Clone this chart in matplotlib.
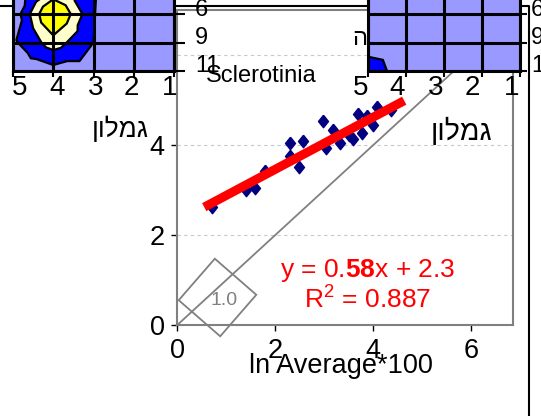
import numpy as np
import matplotlib
matplotlib.use('Agg')
import matplotlib.pyplot as plt
import matplotlib.tri as mtri
from matplotlib.path import Path
from matplotlib.transforms import ScaledTranslation

plt.rcParams['font.family'] = ['Liberation Sans', 'DejaVu Sans']
plt.rcParams['mathtext.fontset'] = 'custom'
plt.rcParams['mathtext.rm'] = 'Liberation Sans'
plt.rcParams['mathtext.bf'] = 'Liberation Sans:bold'

# scatter: ln(average*100) against sclerotinia
ln_avg = [0.71, 1.41, 1.59, 1.78, 2.29, 2.57, 2.29, 2.49, 2.98, 3.04,
          3.18, 3.33, 3.51, 3.59, 3.69, 3.76, 3.88, 4.00, 4.08, 4.37]
scler = [2.62, 3.00, 3.04, 3.42, 4.04, 4.09, 3.76, 3.51, 4.53, 3.93,
         4.33, 4.04, 4.22, 4.13, 4.69, 4.27, 4.64, 4.44, 4.84, 4.78]

# linear trend
slope, intercept, r2 = 0.58, 2.3, 0.887
fit_range = [0.55, 4.63]
one_to_one = [0, 7]
ref_x, ref_y, ref_label = [0.805], [0.617], '1.0'

# field grids (columns 5..1, rows above 6, 6, 9, 11)
grid_cols = [5, 4, 3, 2, 1]
grid_rows = [-1, 0, 1, 2]
row_labels = ['6', '9', '11']
left_field = [[1.0, 2.6, 2.1, 0.8, 0.5],
              [1.2, 5.5, 2.05, 0.8, 0.5],
              [1.8, 3.5, 2.0, 0.8, 0.5],
              [1.4, 1.6, 1.6, 0.8, 0.5]]
right_field = [[1.0, 1.0, 1.0, 1.0, 1.0],
               [1.0, 1.0, 1.0, 1.0, 1.0],
               [1.1, 1.9, 1.0, 1.0, 1.0],
               [2.9, 1.1, 1.0, 1.0, 1.0]]
band_levels = [-1, 2, 3, 4, 5.4, 10]
band_colors = ['#9999FF', '#0000FF', '#FFFFCC', '#FFFF00', '#800080']

heb_label = 'גמלון'[::-1]  # no bidi in matplotlib, reverse for display

W, H = 541, 416
fig = plt.figure(figsize=(W / 100, H / 100), dpi=100)


def rect(l, t, r, b):
    return [l / W, 1 - b / H, (r - l) / W, (b - t) / H]


def shift(lbl, dx, dy):
    lbl.set_transform(lbl.get_transform() +
                      ScaledTranslation(dx / 100, dy / 100, fig.dpi_scale_trans))


def four_triangle_mesh(xs, ys, z):
    z = np.asarray(z, float)
    ny, nx = z.shape
    X, Y = np.meshgrid(xs, ys)
    px, py, pz = list(X.ravel()), list(Y.ravel()), list(z.ravel())
    tris = []
    for j in range(ny - 1):
        for i in range(nx - 1):
            a, b = j * nx + i, j * nx + i + 1
            c, d = (j + 1) * nx + i + 1, (j + 1) * nx + i
            m = len(px)
            px.append((xs[i] + xs[i + 1]) / 2)
            py.append((ys[j] + ys[j + 1]) / 2)
            pz.append(z[j:j + 2, i:i + 2].mean())
            tris += [[a, b, m], [b, c, m], [c, d, m], [d, a, m]]
    return mtri.Triangulation(px, py, tris), np.array(pz)


# outer frame
bg = fig.add_axes([0, 0, 1, 1], zorder=-1)
bg.axis('off')
bg.set_xlim(0, W)
bg.set_ylim(H, 0)
bg.plot([0, 529, 529], [6, 6, H], color='k', lw=1.5)

# main scatter panel
ax = fig.add_axes(rect(177.3, 10, 513, 325))
ax.set_xlim(0, 6.85)
ax.set_ylim(0, 7.0)
ax.set_xticks([0, 2, 4, 6])
ax.set_yticks([0, 2, 4, 6])
for s in ax.spines.values():
    s.set_color('#808080')
    s.set_linewidth(1.5)
ax.tick_params(direction='out', length=4, width=1, color='k', labelsize=19.5)
ax.tick_params(axis='y', pad=5)
ax.tick_params(axis='x', pad=5)
ax.yaxis.grid(True, color='#C8C8C8', ls=(0, (3, 3)), lw=0.8)
ax.set_axisbelow(True)

ax.plot(one_to_one, one_to_one, color='#808080', lw=1.3, zorder=2)
diamond = Path([(0, 1), (0.8, 0), (0, -1), (-0.8, 0), (0, 1)])
ax.plot(ln_avg, scler, ls='none', marker=diamond, ms=9, color='#000080', zorder=3)
fx = np.array(fit_range)
ax.plot(fx, slope * fx + intercept, color='red', lw=6.5, solid_capstyle='butt', zorder=4)
ax.plot(ref_x, ref_y, ls='none', marker=(4, 0, 4), ms=56, mfc='none',
        mec='#808080', mew=1.3, clip_on=False, zorder=2)
ax.annotate(ref_label, (ref_x[0], ref_y[0]), xytext=(5, -2), textcoords='offset points',
            ha='center', va='center', fontsize=14, color='#808080')

ax.text(0.249, 0.771, 'Sclerotinia', transform=ax.transAxes, ha='center',
        va='baseline', fontsize=17)
whole, frac = str(slope).split('.')
ax.text(0.568, 0.152, 'y = %s.$\\mathbf{%s}$x + %s' % (whole, frac, intercept),
        transform=ax.transAxes, ha='center', va='baseline', fontsize=19, color='red')
ax.text(0.568, 0.054, 'R$^{2}$ = %.3f' % r2, transform=ax.transAxes,
        ha='center', va='baseline', fontsize=19, color='red')
ax.text(0.488, -0.152, 'ln Average*100', transform=ax.transAxes, ha='center',
        va='baseline', fontsize=19.5)

# labels beside the panel
fig.text(92 / W, 1 - 137 / H, heb_label, fontsize=19, ha='left', va='baseline')
fig.text(431 / W, 1 - 140 / H, heb_label, fontsize=20.5, ha='left', va='baseline')
fig.text(352 / W, 1 - 45 / H, 'ה', fontsize=17, ha='left', va='baseline', zorder=3)


def field_panel(r, z, ylen, ypad, xshifts):
    g = fig.add_axes(r, zorder=5)
    tri, vals = four_triangle_mesh(grid_cols, grid_rows, z)
    g.tricontourf(tri, vals, levels=band_levels, colors=band_colors)
    g.tricontour(tri, vals, levels=band_levels[1:-1], colors='k', linewidths=1.6)
    g.set_xlim(5, 1)
    g.set_ylim(2, -1)
    g.set_xticks(grid_cols)
    g.set_yticks([0, 1, 2])
    g.set_yticklabels(row_labels)
    g.grid(True, color='k', lw=2.2)
    g.set_axisbelow(False)
    for s in g.spines.values():
        s.set_linewidth(2.2)
    g.tick_params(axis='x', direction='out', length=4, width=1.5, labelsize=20, pad=-1)
    g.tick_params(axis='y', direction='out', left=False, labelleft=False, right=True,
                  labelright=True, length=ylen, width=1.5, labelsize=17, pad=ypad)
    for lbl in g.get_yticklabels():
        shift(lbl, 0, 7)
    for lbl, dx in zip(g.get_xticklabels(), xshifts):
        shift(lbl, dx, 0)
    return g


field_panel(rect(13, -14.5, 174, 71), left_field, 8, 7, [7, 4, 2, -2, -4])
field_panel(rect(368, -14.5, 520, 71), right_field, 5, 3, [-7, -9, -8, -10, -8])

fig.savefig('out.png', dpi=100)
